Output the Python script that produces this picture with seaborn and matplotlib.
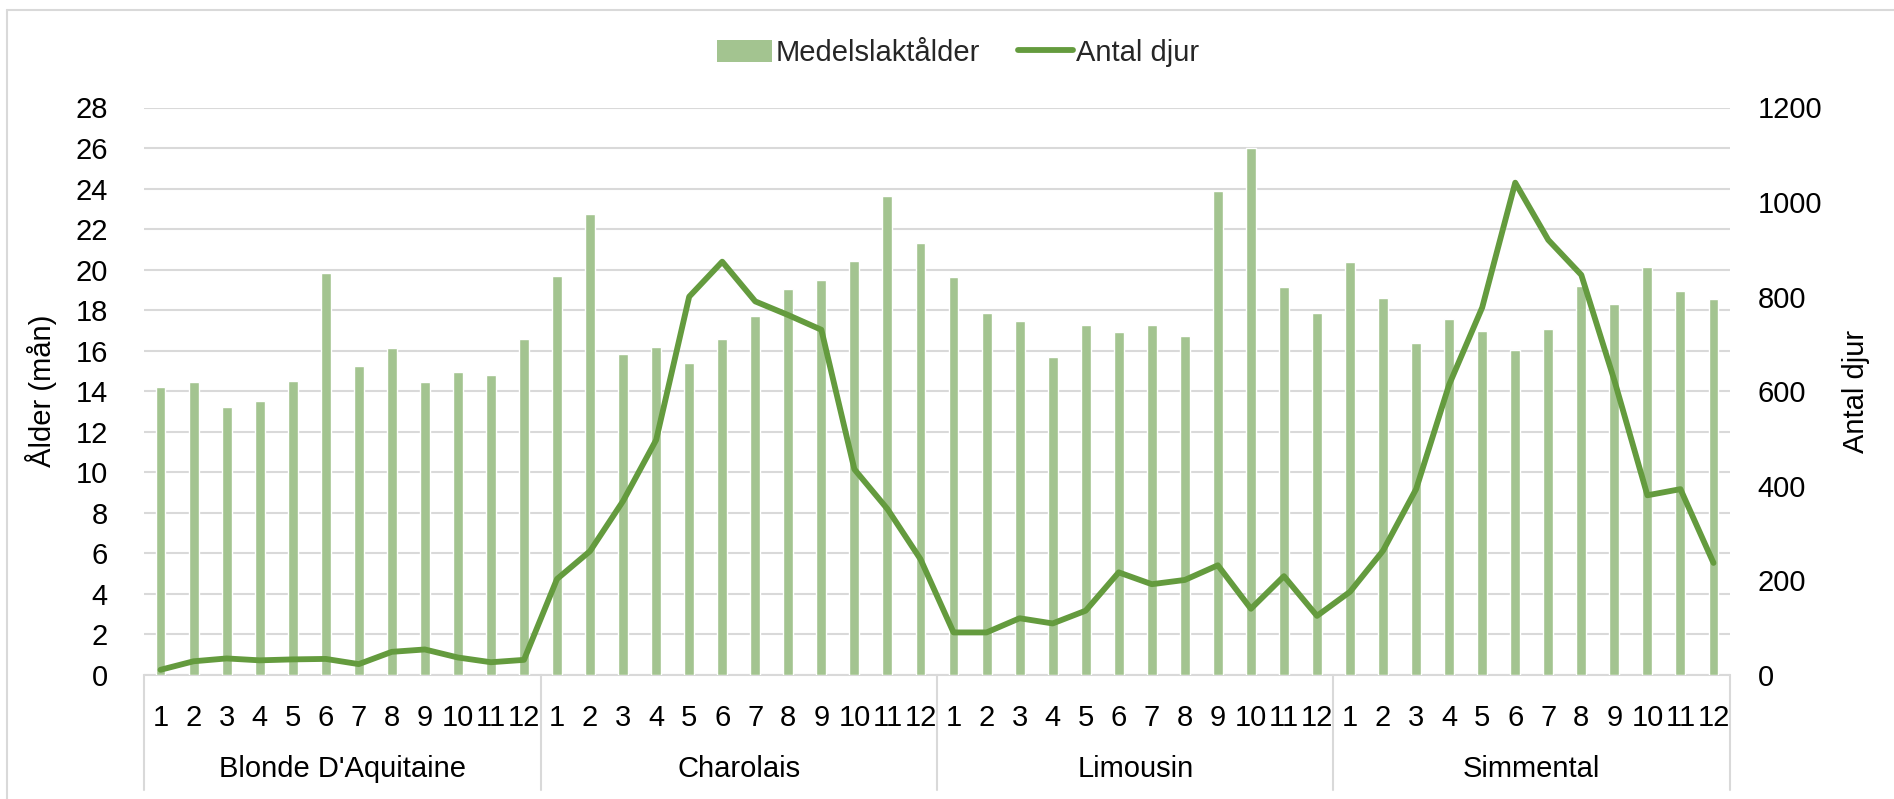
import matplotlib
matplotlib.use("Agg")
import matplotlib.pyplot as plt
import matplotlib.patches as mpatches
import matplotlib.lines as mlines
import matplotlib.transforms as mtrans
import numpy as np
import pandas as pd
import seaborn as sns

# ---------------- data ----------------
breeds = ["Blonde D'Aquitaine", "Charolais", "Limousin", "Simmental"]
months = [str(m) for m in range(1, 13)]

age_blonde = [14.2, 14.45, 13.2, 13.5, 14.5, 19.85, 15.25, 16.15, 14.45, 14.95, 14.8, 16.6]
age_charolais = [19.7, 22.75, 15.85, 16.2, 15.4, 16.6, 17.7, 19.05, 19.5, 20.45, 23.65, 21.3]
age_limousin = [19.65, 17.85, 17.45, 15.7, 17.25, 16.9, 17.25, 16.75, 23.9, 26.0, 19.15, 17.85]
age_simmental = [20.4, 18.6, 16.4, 17.55, 16.95, 16.05, 17.05, 19.2, 18.3, 20.15, 18.95, 18.55]

n_blonde = [11, 29, 35, 31, 33, 34, 23, 49, 54, 37, 27, 32]
n_charolais = [203, 262, 368, 497, 800, 874, 790, 761, 730, 435, 351, 245]
n_limousin = [90, 90, 120, 109, 136, 217, 192, 201, 232, 140, 209, 125]
n_simmental = [176, 263, 393, 614, 777, 1041, 920, 846, 623, 380, 393, 237]

left_ticks = list(range(0, 29, 2))
right_ticks = list(range(0, 1201, 200))

bar_label = "Medelslaktålder"
line_label = "Antal djur"
left_ylabel = "Ålder (mån)"
right_ylabel = "Antal djur"

# ---------------- build frame ----------------
ages = age_blonde + age_charolais + age_limousin + age_simmental
counts = n_blonde + n_charolais + n_limousin + n_simmental
df = pd.DataFrame({
    "pos": np.arange(len(ages)),
    "breed": np.repeat(breeds, 12),
    "month": months * 4,
    "age": ages,
    "count": counts,
})

BAR_C = "#A3C490"
LINE_C = "#649B3E"
GRID_C = "#D9D9D9"
TEXT_C = "#000000"
FS = 21

sns.set_theme(style="white")
plt.rcParams["font.family"] = ["Liberation Sans", "DejaVu Sans"]

W, H = 1894, 799
fig = plt.figure(figsize=(W / 100, H / 100), dpi=100)
left, right = 144 / W, 1730 / W
bottom, top = (H - 675) / H, (H - 107.5) / H
ax = fig.add_axes([left, bottom, right - left, top - bottom])

sns.barplot(data=df, x="pos", y="age", ax=ax, color=BAR_C, width=0.3,
            saturation=1, errorbar=None, zorder=2)
ax.set_xlim(-0.5, len(ages) - 0.5)
ax.set_ylim(0, 28)
ax.set_yticks(left_ticks)
ax.set_yticklabels([str(t) for t in left_ticks], fontsize=FS, color=TEXT_C)
ax.yaxis.grid(True, color=GRID_C, linewidth=1.5, zorder=0)
ax.set_axisbelow(True)
for s in ax.spines.values():
    s.set_visible(False)
ax.tick_params(axis="y", length=0, pad=26)
ax.set_xlabel("")
ax.set_ylabel(left_ylabel, fontsize=FS, color=TEXT_C, labelpad=13)

# month tick labels
ax.set_xticks(df["pos"])
ax.set_xticklabels(df["month"], fontsize=FS, color=TEXT_C)
ax.tick_params(axis="x", length=0, pad=21)

# axis line and group separators
ax.axhline(0, color=GRID_C, linewidth=1.5, zorder=1, clip_on=False)
trans = mtrans.blended_transform_factory(ax.transData, ax.transAxes)
sep_bottom = -(790 - 675) / (675 - 107.5)
for k in range(len(breeds) + 1):
    xs = k * 12 - 0.5
    ax.plot([xs, xs], [0, sep_bottom], transform=trans, color=GRID_C,
            linewidth=1.5, clip_on=False, zorder=1)
grp_y = -(769 - 675) / (675 - 107.5)
for k, b in enumerate(breeds):
    ax.text(k * 12 + 5.5, grp_y, b, transform=trans, ha="center", va="center",
            fontsize=FS, color=TEXT_C)

# secondary axis with line
ax2 = ax.twinx()
sns.lineplot(data=df, x="pos", y="count", ax=ax2, color=LINE_C, linewidth=4.2,
             errorbar=None, sort=False, zorder=3)
ax2.set_ylim(0, 1200)
ax2.set_yticks(right_ticks)
ax2.set_yticklabels([str(t) for t in right_ticks], fontsize=FS, color=TEXT_C)
ax2.tick_params(axis="y", length=0, pad=20)
ax2.grid(False)
for s in ax2.spines.values():
    s.set_visible(False)
ax2.set_ylabel(right_ylabel, fontsize=FS, color=TEXT_C, labelpad=14)
ax2.set_xlim(-0.5, len(ages) - 0.5)

# legend
h1 = mpatches.Patch(facecolor=BAR_C, edgecolor="none", label=bar_label)
h2 = mlines.Line2D([], [], color=LINE_C, linewidth=4.2, label=line_label)
fig.legend(handles=[h1, h2], loc="center", bbox_to_anchor=(958 / W, 1 - 53 / H),
           ncol=2, frameon=False, fontsize=FS, handlelength=1.9,
           handleheight=0.8, handletextpad=0.1, columnspacing=1.3)

# outer chart border (left/top visible)
fig.add_artist(mlines.Line2D([7 / W, 7 / W], [0, 1 - 10 / H], color=GRID_C,
                             linewidth=1.5, transform=fig.transFigure))
fig.add_artist(mlines.Line2D([7 / W, 1], [1 - 10 / H, 1 - 10 / H], color=GRID_C,
                             linewidth=1.5, transform=fig.transFigure))

fig.savefig("out.png", dpi=100, facecolor="white")
